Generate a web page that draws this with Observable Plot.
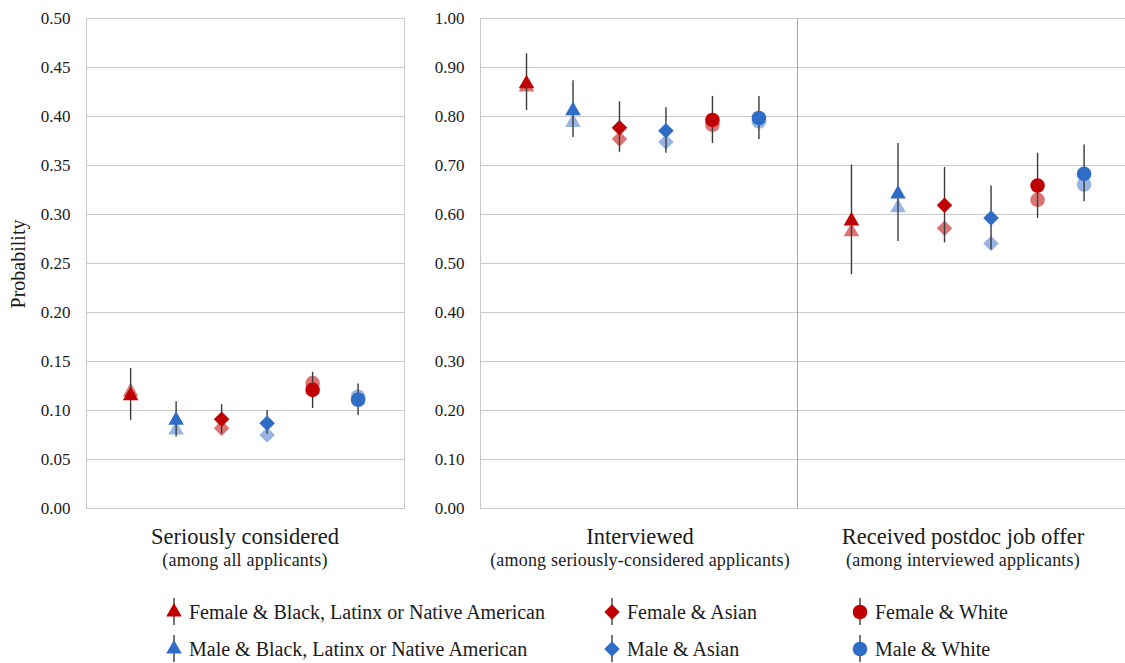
<!DOCTYPE html>
<html><head><meta charset="utf-8">
<script src="https://cdn.jsdelivr.net/npm/d3@7"></script>
<script src="https://cdn.jsdelivr.net/npm/@observablehq/plot@0.6"></script>
<style>
body{margin:0;background:#fff;font-family:"Liberation Serif","Times New Roman","DejaVu Serif",serif;color:#1a1a1a;}
#chart{position:relative;width:1125px;height:663px;overflow:hidden;background:#fff;}
.panel{position:absolute;top:0;}
.panel text{font-family:"Liberation Serif","Times New Roman","DejaVu Serif",serif;}
.ptitle{position:absolute;text-align:center;white-space:nowrap;transform:translateX(-50%);}
.ptitle .t1{font-size:22.5px;line-height:24px;}
.ptitle .t2{font-size:18px;line-height:22px;letter-spacing:0.2px;}
.ylab{position:absolute;left:18px;top:264px;transform:translate(-50%,-50%) rotate(-90deg);font-size:20px;white-space:nowrap;}
.leg{position:absolute;display:flex;align-items:center;height:36px;font-size:20px;white-space:nowrap;}
.leg svg{margin-right:6px;}
</style></head><body><div id="chart"></div>
<script>
// ---------- data ----------
const groups = [
  "Female & Black, Latinx or Native American",
  "Male & Black, Latinx or Native American",
  "Female & Asian",
  "Male & Asian",
  "Female & White",
  "Male & White"
];
const stages = ["Seriously considered", "Interviewed", "Received postdoc job offer"];
const stageNotes = ["(among all applicants)", "(among seriously-considered applicants)", "(among interviewed applicants)"];

const consideredEst = [0.115, 0.090, 0.091, 0.087, 0.121, 0.111];
const consideredRaw = [0.119, 0.080, 0.082, 0.075, 0.128, 0.114];
const consideredLo  = [0.090, 0.073, 0.076, 0.076, 0.102, 0.095];
const consideredHi  = [0.143, 0.109, 0.106, 0.100, 0.139, 0.127];

const interviewedEst = [0.867, 0.812, 0.777, 0.771, 0.793, 0.797];
const interviewedRaw = [0.860, 0.788, 0.754, 0.748, 0.783, 0.790];
const interviewedLo  = [0.812, 0.757, 0.727, 0.725, 0.745, 0.753];
const interviewedHi  = [0.928, 0.873, 0.830, 0.818, 0.841, 0.841];

const offerEst = [0.587, 0.642, 0.619, 0.593, 0.659, 0.683];
const offerRaw = [0.565, 0.614, 0.572, 0.541, 0.630, 0.661];
const offerLo  = [0.477, 0.545, 0.542, 0.528, 0.592, 0.626];
const offerHi  = [0.701, 0.745, 0.696, 0.658, 0.725, 0.742];

const ticksLeft = [0, 0.05, 0.10, 0.15, 0.20, 0.25, 0.30, 0.35, 0.40, 0.45, 0.50];
const ticksRight = [0, 0.1, 0.2, 0.3, 0.4, 0.5, 0.6, 0.7, 0.8, 0.9, 1.0];

// ---------- styles ----------
const serif = '"Liberation Serif","Times New Roman","DejaVu Serif",serif';
const darkRed = "#c00000", darkBlue = "#2e6cc6";
const lightRed = "#dc7474", lightBlue = "#97b4e2";
const darkColors = [darkRed, darkBlue, darkRed, darkBlue, darkRed, darkBlue];
const lightColors = [lightRed, lightBlue, lightRed, lightBlue, lightRed, lightBlue];
const shapes = ["triangle", "triangle", "diamond2", "diamond2", "circle", "circle"];
const shapeR = {triangle: 5.8, diamond2: 7, circle: 7.3};
const d3Shape = {triangle: d3.symbolTriangle, diamond2: d3.symbolDiamond2, circle: d3.symbolCircle};
const gridColor = "#c9c9c9";

function rows(est, raw, lo, hi) {
  return groups.map((g, i) => ({group: g, idx: i, est: est[i], raw: raw[i], lo: lo[i], hi: hi[i]}));
}
const stageData = [
  rows(consideredEst, consideredRaw, consideredLo, consideredHi),
  rows(interviewedEst, interviewedRaw, interviewedLo, interviewedHi),
  rows(offerEst, offerRaw, offerLo, offerHi)
];

function dots(data, yKey, colorArr) {
  return Object.keys(shapeR).map(sh => Plot.dot(data.filter(d => shapes[d.idx] === sh), {
    x: "idx", y: yKey, symbol: sh, r: shapeR[sh],
    fill: d => colorArr[d.idx], stroke: "none"
  }));
}

function panel(data, opts) {
  const marks = [
    Plot.gridY(opts.ticks, {stroke: gridColor, strokeOpacity: 1, strokeWidth: 1}),
    ...opts.frame,
    ...dots(data, "raw", lightColors),
    Plot.ruleX(data, {x: "idx", y1: "lo", y2: "hi", stroke: "#3a3a3a", strokeWidth: 1.4}),
    ...dots(data, "est", darkColors)
  ];
  if (opts.axis) marks.push(Plot.axisY(opts.ticks, {tickSize: 0, tickPadding: 16, tickFormat: d3.format(".2f"), fill: "#1a1a1a", fontFamily: serif}));
  return Plot.plot({
    width: opts.width, height: 520,
    marginTop: 18, marginBottom: 12, marginLeft: opts.ml, marginRight: opts.mr,
    x: {domain: opts.xdom, axis: null},
    y: {domain: opts.ydom, axis: null},
    style: {fontFamily: serif, fontSize: "17px", background: "transparent", overflow: "visible"},
    marks
  });
}

const chart = document.getElementById("chart");
function place(el, left) { el.classList.add("panel"); el.style.left = left + "px"; chart.appendChild(el); }

// left panel
place(panel(stageData[0], {
  width: 420, ml: 86, mr: 16, xdom: [-0.97, 6.02], ydom: [0, 0.5], ticks: ticksLeft, axis: true,
  frame: [Plot.frame({stroke: gridColor, strokeWidth: 1})]
}), 0);
// middle panel
place(panel(stageData[1], {
  width: 377, ml: 60, mr: 0, xdom: [-0.99, 5.83], ydom: [0, 1], ticks: ticksRight, axis: true,
  frame: [Plot.frame({anchor: "left", stroke: gridColor}), Plot.frame({anchor: "bottom", stroke: gridColor}), Plot.frame({anchor: "top", stroke: gridColor})]
}), 420);
// right panel
place(panel(stageData[2], {
  width: 335, ml: 7, mr: 0, xdom: [-1.16, 5.89], ydom: [0, 1], ticks: ticksRight, axis: false,
  frame: [Plot.frame({anchor: "left", stroke: "#a8a8a8"}), Plot.frame({anchor: "bottom", stroke: gridColor}), Plot.frame({anchor: "top", stroke: gridColor})]
}), 790);

// panel titles
const titleCenters = [245, 640, 963];
stages.forEach((s, i) => {
  const div = document.createElement("div");
  div.className = "ptitle";
  div.style.left = titleCenters[i] + "px";
  div.style.top = "525px";
  div.innerHTML = `<div class="t1">${s}</div><div class="t2">${stageNotes[i]}</div>`;
  chart.appendChild(div);
});

// y label
const yl = document.createElement("div");
yl.className = "ylab"; yl.textContent = "Probability";
chart.appendChild(yl);

// legend
const legendOrder = [0, 2, 4, 1, 3, 5];
const legCols = [165, 603, 851];
const legRows = [594, 631];
legendOrder.forEach((gi, k) => {
  const col = k % 3, row = Math.floor(k / 3);
  const item = document.createElement("div");
  item.className = "leg";
  item.style.left = legCols[col] + "px";
  item.style.top = legRows[row] + "px";
  const sh = shapes[gi];
  const r = shapeR[sh];
  const path = d3.symbol(d3Shape[sh], Math.PI * r * r)();
  item.innerHTML = `<svg width="18" height="36" viewBox="-9 -18 18 36"><line x1="0" x2="0" y1="-14" y2="13" stroke="#3a3a3a" stroke-width="1.4"/><path d="${path}" fill="${darkColors[gi]}"/></svg><span>${groups[gi]}</span>`;
  chart.appendChild(item);
});
</script>
</body></html>
